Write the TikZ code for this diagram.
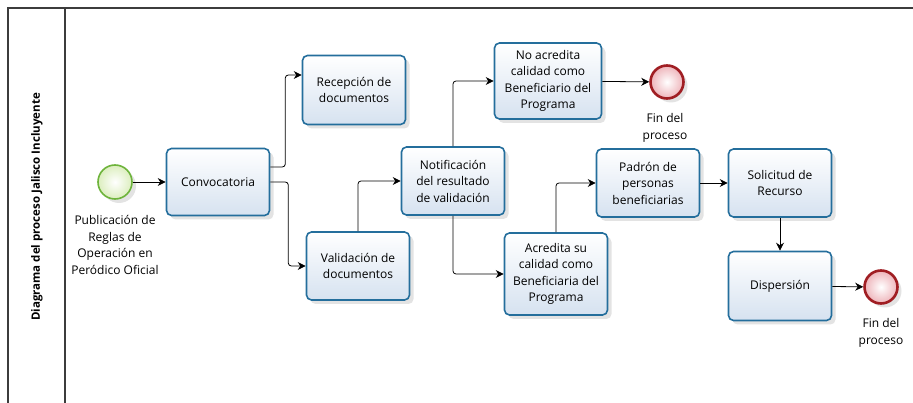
\documentclass[tikz,border=0pt]{standalone}
\usepackage{fontspec}
\setmainfont{Open Sans}
\usetikzlibrary{positioning}
\usetikzlibrary{arrows.meta,shadows}
\definecolor{taskblue}{RGB}{36,110,156}
\definecolor{taskfill}{RGB}{214,226,240}
\definecolor{startgreen}{RGB}{110,180,60}
\definecolor{startfill}{RGB}{220,238,190}
\definecolor{endred}{RGB}{160,30,35}
\definecolor{endfill}{RGB}{238,180,186}
\definecolor{poolgray}{RGB}{60,60,60}
\tikzset{
  task/.style={draw=taskblue, line width=1.6pt, rounded corners=5pt,
    top color=white, bottom color=taskfill, minimum width=103pt,
    minimum height=68pt, align=center, inner sep=1pt,
    font=\fontsize{12}{16.5}\selectfont,
    drop shadow={opacity=0.22, shadow xshift=4pt, shadow yshift=-4pt}},
  startev/.style={circle, draw=startgreen, line width=1.6pt,
    inner color=white, outer color=startfill, minimum size=34pt,
    drop shadow={opacity=0.22, shadow xshift=4pt, shadow yshift=-4pt}},
  endev/.style={circle, draw=endred, line width=2.6pt,
    inner color=white, outer color=endfill, minimum size=33pt,
    drop shadow={opacity=0.22, shadow xshift=4pt, shadow yshift=-4pt}},
  evlabel/.style={align=center, font=\fontsize{12}{16.5}\selectfont},
  flow/.style={-{Stealth[length=8pt,width=8pt]}, line width=0.8pt,
    rounded corners=3pt},
}
\begin{document}
\begin{tikzpicture}[x=1pt,y=-1pt]
\useasboundingbox (0,0) rectangle (913,403);
% pool
\draw[poolgray, line width=1.1pt] (8,403) -- (8,8) -- (913,8);
\draw[poolgray, line width=1.1pt] (65,8) -- (65,403);
\node[rotate=90, font=\fontsize{11.5}{12}\selectfont\bfseries] (pool) at (37,207) {Diagrama del proceso Jalisco Incluyente};
% events
\node[startev] (start) at (115,182) {};
\node[evlabel] (startlbl) at (115,245) {Publicación de\\Reglas de\\Operación en\\Peródico Oficial};
\node[endev] (fin1) at (667,82) {};
\node[evlabel] (fin1lbl) at (665,128) {Fin del\\proceso};
\node[endev] (fin2) at (881,287) {};
\node[evlabel] (fin2lbl) at (881,333) {Fin del\\proceso};
% tasks
\node[task, minimum height=67pt] (conv) at (218,182) {Convocatoria};
\node[task, minimum height=69pt] (recep) at (354,90) {Recepción de\\documentos};
\node[task] (valid) at (358,266) {Validación de\\documentos};
\node[task] (notif) at (453,181) {Notificación\\del resultado\\de validación};
\node[task, minimum width=107pt, minimum height=76pt] (noacr) at (548,81) {No acredita\\calidad como\\Beneficiario del\\Programa};
\node[task, minimum height=82pt] (acr) at (556,274) {Acredita su\\calidad como\\Beneficiaria del\\Programa};
\node[task] (padron) at (648,183) {Padrón de\\personas\\beneficiarias};
\node[task] (solic) at (780,183) {Solicitud de\\Recurso};
\node[task, minimum height=69pt] (disp) at (780,286) {Dispersión};
% flows
\draw[flow] (start) -- (conv);
\draw[flow] ([yshift=15pt]conv.east) -- ++(15,0) |- ([yshift=15pt]recep.west);
\draw[flow] (conv.east) -- ++(18,0) |- (valid.west);
\draw[flow] (valid.north) |- (notif.west);
\draw[flow] (notif.north) |- (noacr.west);
\draw[flow] (notif.south) |- (acr.west);
\draw[flow] (noacr) -- (fin1);
\draw[flow] (acr.north) |- (padron.west);
\draw[flow] (padron) -- (solic);
\draw[flow] (solic) -- (disp);
\draw[flow] (disp) -- (fin2);
\end{tikzpicture}
\end{document}
